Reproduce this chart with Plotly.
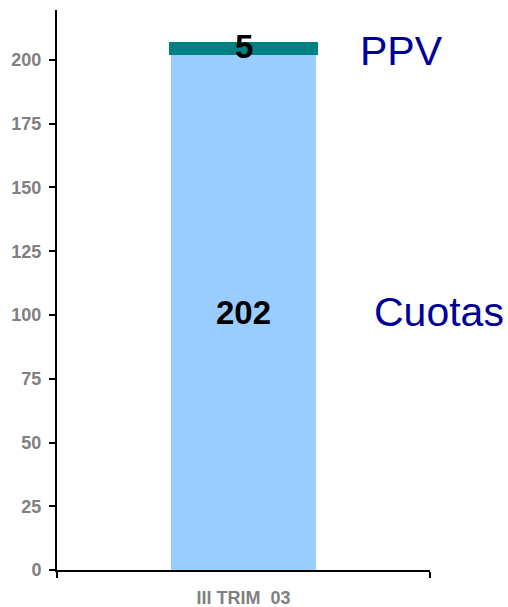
import plotly.graph_objects as go

categories = ["III TRIM  03"]
cuotas = [202]
ppv = [5]
series_names = ["Cuotas", "PPV"]
y_ticks = [0, 25, 50, 75, 100, 125, 150, 175, 200]

value_font = dict(family="Arial, Liberation Sans", size=33, color="black", weight="bold")

fig = go.Figure()
fig.add_trace(go.Bar(
    x=categories, y=cuotas, name=series_names[0],
    marker=dict(color="#99CCFF", line=dict(color="white", width=1)),
    text=[str(v) for v in cuotas], textposition="inside", insidetextanchor="middle",
    textangle=0, textfont=value_font,
    width=0.39,
))
fig.add_trace(go.Bar(
    x=categories, y=ppv, name=series_names[1],
    marker=dict(color="#008080", line=dict(width=0)),
    textposition="none",
    width=0.40,
))
# value label for the thin PPV segment (centered on the segment)
fig.add_annotation(x=categories[0], y=cuotas[0] + ppv[0] / 2, text=str(ppv[0]),
                   showarrow=False, font=value_font, yshift=2)

fig.update_layout(
    barmode="stack",
    width=508, height=607,
    margin=dict(l=57, r=78, t=10, b=37),
    plot_bgcolor="white", paper_bgcolor="white",
    showlegend=False,
    font=dict(family="Arial, Liberation Sans"),
)
fig.update_yaxes(
    range=[0, 219.6], tickvals=y_ticks, ticks="outside", ticklen=6, tickwidth=2,
    tickcolor="black", showline=True, linecolor="black", linewidth=2,
    showgrid=False, zeroline=False, automargin=False, ticklabelstandoff=4,
    tickfont=dict(size=18, color="#808080", weight="bold"),
)
fig.update_xaxes(
    range=[-0.5, 0.5], ticks="outside", tickson="boundaries", ticklen=6, tickwidth=2,
    tickcolor="black", showline=True, linecolor="black", linewidth=2,
    showgrid=False, ticklabelstandoff=10, automargin=False,
    tickfont=dict(size=18, color="#808080", weight="bold"),
)

label_font = dict(family="Arial, Liberation Sans", size=41, color="#000099")
fig.add_annotation(x=1.0, xref="paper", y=cuotas[0] + ppv[0] / 2, yref="y",
                   text=series_names[1], showarrow=False, xanchor="left", xshift=-72,
                   yshift=-2, font=label_font)
fig.add_annotation(x=1.0, xref="paper", y=cuotas[0] / 2, yref="y",
                   text=series_names[0], showarrow=False, xanchor="left", xshift=-58,
                   font=label_font)

fig.write_html("out.html", config={"displayModeBar": False},
               post_script="document.body.style.margin='0';document.body.style.overflow='hidden';")
